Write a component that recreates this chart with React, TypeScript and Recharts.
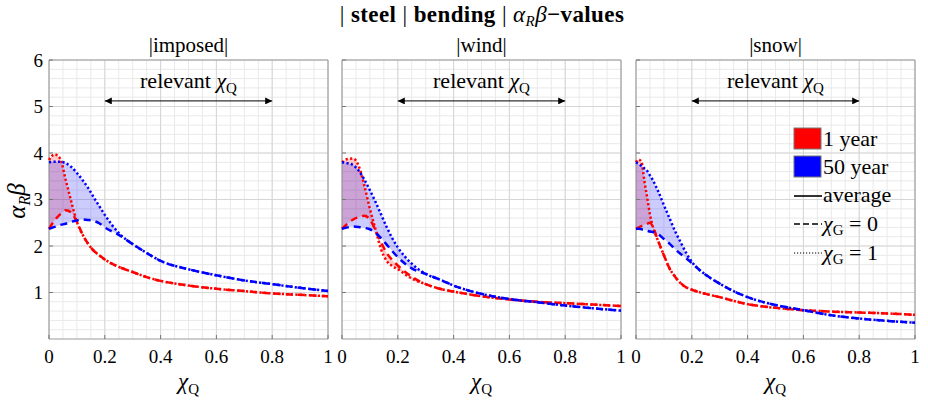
import React from 'react';
import {
  ComposedChart,
  Line,
  Area,
  XAxis,
  YAxis,
  CartesianGrid,
  ReferenceLine,
  ReferenceArea,
} from 'recharts';

// ---------- axis ticks ----------
const xTicks = [0, 0.2, 0.4, 0.6, 0.8, 1];
const xMinor = [0, 0.05, 0.1, 0.15, 0.2, 0.25, 0.3, 0.35, 0.4, 0.45, 0.5, 0.55, 0.6, 0.65, 0.7, 0.75, 0.8, 0.85, 0.9, 0.95, 1];
const yTicks = [1, 2, 3, 4, 5, 6];
const yMinor = [0.2, 0.4, 0.6, 0.8, 1, 1.2, 1.4, 1.6, 1.8, 2, 2.2, 2.4, 2.6, 2.8, 3, 3.2, 3.4, 3.6, 3.8, 4, 4.2, 4.4, 4.6, 4.8, 5, 5.2, 5.4, 5.6, 5.8];

const panelTitles = ['|imposed|', '|wind|', '|snow|'];

// ---------- imposed ----------
const imposedX = [0, 0.02, 0.04, 0.06, 0.08, 0.1, 0.12, 0.14, 0.16, 0.18, 0.2, 0.25, 0.3, 0.35, 0.4, 0.5, 0.6, 0.7, 0.8, 0.9, 1];
const imposedRedG0 = [2.37, 2.55, 2.68, 2.77, 2.72, 2.52, 2.25, 2.05, 1.9, 1.8, 1.71, 1.55, 1.44, 1.33, 1.25, 1.15, 1.08, 1.03, 0.98, 0.95, 0.92];
const imposedRedG1 = [3.85, 3.97, 3.88, 3.42, 2.95, 2.52, 2.25, 2.05, 1.9, 1.8, 1.71, 1.55, 1.44, 1.33, 1.25, 1.15, 1.08, 1.03, 0.98, 0.95, 0.92];
const imposedBlueG0 = [2.37, 2.41, 2.45, 2.48, 2.52, 2.55, 2.57, 2.56, 2.54, 2.49, 2.4, 2.24, 2.04, 1.85, 1.68, 1.5, 1.37, 1.26, 1.18, 1.1, 1.03];
const imposedBlueG1 = [3.8, 3.81, 3.81, 3.78, 3.7, 3.57, 3.42, 3.25, 3.05, 2.86, 2.67, 2.28, 2.04, 1.85, 1.68, 1.5, 1.37, 1.26, 1.18, 1.1, 1.03];

// ---------- wind ----------
const windX = [0, 0.02, 0.04, 0.06, 0.08, 0.1, 0.12, 0.14, 0.16, 0.18, 0.2, 0.25, 0.3, 0.35, 0.4, 0.5, 0.6, 0.7, 0.8, 0.9, 1];
const windRedG0 = [2.37, 2.48, 2.57, 2.62, 2.65, 2.57, 2.34, 2.08, 1.85, 1.7, 1.58, 1.34, 1.18, 1.08, 1.02, 0.92, 0.85, 0.8, 0.77, 0.74, 0.71];
const windRedG1 = [3.8, 3.87, 3.88, 3.72, 3.3, 2.8, 2.36, 1.93, 1.68, 1.57, 1.5, 1.3, 1.18, 1.08, 1.02, 0.92, 0.85, 0.8, 0.77, 0.74, 0.71];
const windBlueG0 = [2.37, 2.4, 2.42, 2.41, 2.39, 2.36, 2.28, 2.17, 2.03, 1.89, 1.76, 1.52, 1.4, 1.28, 1.15, 0.97, 0.86, 0.79, 0.72, 0.66, 0.61];
const windBlueG1 = [3.8, 3.78, 3.74, 3.62, 3.43, 3.2, 2.95, 2.68, 2.41, 2.17, 1.97, 1.62, 1.4, 1.28, 1.15, 0.97, 0.86, 0.79, 0.72, 0.66, 0.61];

// ---------- snow ----------
const snowX = [0, 0.01, 0.02, 0.03, 0.04, 0.05, 0.06, 0.08, 0.1, 0.12, 0.14, 0.16, 0.18, 0.2, 0.25, 0.3, 0.35, 0.4, 0.5, 0.6, 0.7, 0.8, 0.9, 1];
const snowRedG0 = [2.37, 2.4, 2.43, 2.46, 2.48, 2.5, 2.42, 2.1, 1.8, 1.52, 1.34, 1.2, 1.11, 1.06, 0.97, 0.9, 0.82, 0.75, 0.67, 0.62, 0.59, 0.57, 0.55, 0.52];
const snowRedG1 = [3.8, 3.86, 3.8, 3.4, 3.05, 2.68, 2.42, 2.1, 1.8, 1.52, 1.34, 1.2, 1.11, 1.06, 0.97, 0.9, 0.82, 0.75, 0.67, 0.62, 0.59, 0.57, 0.55, 0.52];
const snowBlueG0 = [2.37, 2.37, 2.36, 2.35, 2.33, 2.31, 2.3, 2.25, 2.15, 2.05, 1.93, 1.83, 1.74, 1.63, 1.38, 1.19, 1.03, 0.9, 0.73, 0.62, 0.51, 0.44, 0.39, 0.35];
const snowBlueG1 = [3.8, 3.76, 3.72, 3.67, 3.62, 3.52, 3.42, 3.17, 2.88, 2.6, 2.32, 2.08, 1.85, 1.66, 1.38, 1.19, 1.03, 0.9, 0.73, 0.62, 0.51, 0.44, 0.39, 0.35];

const relevantRange = [0.2, 0.8];
const relevantY = 5.12;

const FONT = '"Liberation Serif", "DejaVu Serif", serif';
const RED = '#ff0000';
const BLUE = '#0000ff';
const LW = 2.5;
const DASH = '7 5';
const DOT = '2.2 2.3';

function buildRows(xs: number[], r0: number[], r1: number[], b0: number[], b1: number[]) {
  return xs.map((x, i) => ({
    x,
    r0: r0[i],
    r1: r1[i],
    b0: b0[i],
    b1: b1[i],
    rRange: [r0[i], r1[i]],
    bRange: [b0[i], b1[i]],
  }));
}

const panels = [
  { left: 49, rows: buildRows(imposedX, imposedRedG0, imposedRedG1, imposedBlueG0, imposedBlueG1) },
  { left: 342, rows: buildRows(windX, windRedG0, windRedG1, windBlueG0, windBlueG1) },
  { left: 636, rows: buildRows(snowX, snowRedG0, snowRedG1, snowBlueG0, snowBlueG1) },
];

const PLOT_W = 279;
const Y_W = 49;

const RelevantLabel = (props: any) => {
  const vb = props.viewBox || {};
  const cx = (vb.x || 0) + (vb.width || 0) / 2;
  const y = (vb.y || 0) - 13;
  return (
    <text x={cx} y={y} textAnchor="middle" fontFamily={FONT} fontSize={22} fill="#000">
      relevant{'\u00a0'}
      <tspan fontStyle="italic">χ</tspan>
      <tspan fontSize={15} dy={5}>Q</tspan>
    </text>
  );
};

function Panel({ left, rows, showY }: { left: number; rows: any[]; showY: boolean }) {
  return (
    <div style={{ position: 'absolute', left: left - Y_W, top: 0 }}>
      <ComposedChart
        width={Y_W + PLOT_W + 10}
        height={403}
        data={rows}
        margin={{ top: 60, right: 10, bottom: 0, left: 0 }}
      >
        <CartesianGrid verticalValues={xMinor} horizontalValues={yMinor} stroke="#e9e9e9" strokeWidth={1} />
        <CartesianGrid verticalValues={xTicks} horizontalValues={yTicks} stroke="#d6d6d6" strokeWidth={1} />
        <XAxis
          dataKey="x"
          type="number"
          domain={[0, 1]}
          ticks={xTicks}
          height={64}
          axisLine={false}
          tickSize={-4}
          tickMargin={15}
          tickLine={{ stroke: '#777' }}
          tick={{ fill: '#000', fontFamily: FONT, fontSize: 19 }}
          interval={0}
        />
        <YAxis
          type="number"
          domain={[0, 6]}
          ticks={yTicks}
          width={Y_W}
          axisLine={false}
          tickSize={-4}
          tickMargin={10}
          tickLine={{ stroke: '#777' }}
          tick={{ fill: '#000', fontFamily: FONT, fontSize: 19 }}
          tickFormatter={(v: number) => (showY ? String(v) : '')}
          interval={0}
        />
        <Area type="monotone" dataKey="rRange" stroke="none" fill={RED} fillOpacity={0.2} isAnimationActive={false} />
        <Area type="monotone" dataKey="bRange" stroke="none" fill={BLUE} fillOpacity={0.2} isAnimationActive={false} />
        <Line type="monotone" dataKey="r0" stroke={RED} strokeWidth={LW} strokeDasharray={DASH} dot={false} isAnimationActive={false} />
        <Line type="monotone" dataKey="r1" stroke={RED} strokeWidth={LW} strokeDasharray={DOT} dot={false} isAnimationActive={false} />
        <Line type="monotone" dataKey="b0" stroke={BLUE} strokeWidth={LW} strokeDasharray={DASH} dot={false} isAnimationActive={false} />
        <Line type="monotone" dataKey="b1" stroke={BLUE} strokeWidth={LW} strokeDasharray={DOT} dot={false} isAnimationActive={false} />
        <ReferenceLine
          segment={[
            { x: relevantRange[0], y: relevantY },
            { x: relevantRange[1], y: relevantY },
          ]}
          stroke="#000"
          strokeWidth={1}
          markerStart="url(#arrowHead)"
          markerEnd="url(#arrowHead)"
          label={RelevantLabel}
        />
        <ReferenceArea x1={0} x2={1} y1={0} y2={6} fill="none" stroke="#9a9a9a" strokeWidth={1} />
      </ComposedChart>
    </div>
  );
}

function Overlay() {
  const centers = panels.map((p) => p.left + PLOT_W / 2);
  return (
    <svg width={928} height={403} style={{ position: 'absolute', left: 0, top: 0, pointerEvents: 'none' }}>
      <text x={482} y={22} textAnchor="middle" fontFamily={FONT} fontSize={23} fill="#000" letterSpacing={0.4}>
        |{'\u00a0'}
        <tspan fontWeight="bold">steel</tspan>
        {'\u00a0'}|{'\u00a0'}
        <tspan fontWeight="bold">bending</tspan>
        {'\u00a0'}|{'\u00a0'}
        <tspan fontStyle="italic">α</tspan>
        <tspan fontStyle="italic" fontSize={15} dy={4}>R</tspan>
        <tspan fontStyle="italic" dy={-4}>β</tspan>
        <tspan fontWeight="bold">−values</tspan>
      </text>
      {centers.map((cx, i) => (
        <text key={'t' + i} x={cx} y={52} textAnchor="middle" fontFamily={FONT} fontSize={21} fill="#000">
          {panelTitles[i]}
        </text>
      ))}
      {centers.map((cx, i) => (
        <text key={'x' + i} x={cx} y={389} textAnchor="middle" fontFamily={FONT} fontSize={23} fill="#000">
          <tspan fontStyle="italic">χ</tspan>
          <tspan fontSize={15} dy={5}>Q</tspan>
        </text>
      ))}
      <text
        transform="translate(25 201) rotate(-90)"
        textAnchor="middle"
        fontFamily={FONT}
        fontSize={25}
        fill="#000"
      >
        <tspan fontStyle="italic">α</tspan>
        <tspan fontStyle="italic" fontSize={16} dy={5}>R</tspan>
        <tspan fontStyle="italic" dy={-5}>β</tspan>
      </text>
      {/* legend */}
      <g fontFamily={FONT} fontSize={22} fill="#000">
        <rect x={794} y={128} width={27} height={21} fill={RED} stroke="#777" strokeWidth={1} />
        <text x={823} y={146}>1 year</text>
        <rect x={794} y={156} width={27} height={21} fill={BLUE} stroke="#777" strokeWidth={1} />
        <text x={823} y={174}>50 year</text>
        <line x1={794} x2={822} y1={196} y2={196} stroke="#000" strokeWidth={1.6} />
        <text x={823} y={202}>average</text>
        <line x1={794} x2={822} y1={224} y2={224} stroke="#000" strokeWidth={1.6} strokeDasharray="6 3" />
        <text x={823} y={231}>
          <tspan fontStyle="italic">χ</tspan>
          <tspan fontSize={15} dy={4}>G</tspan>
          <tspan dy={-4}>{'\u00a0'}={'\u00a0'}0</tspan>
        </text>
        <line x1={794} x2={822} y1={253} y2={253} stroke="#000" strokeWidth={1.2} strokeDasharray="1.2 1.8" />
        <text x={823} y={260}>
          <tspan fontStyle="italic">χ</tspan>
          <tspan fontSize={15} dy={4}>G</tspan>
          <tspan dy={-4}>{'\u00a0'}={'\u00a0'}1</tspan>
        </text>
      </g>
    </svg>
  );
}

export default function App() {
  return (
    <div style={{ position: 'absolute', left: 0, top: 0, width: 928, height: 403, background: '#fff', overflow: 'hidden' }}>
      <svg width={0} height={0} style={{ position: 'absolute' }}>
        <defs>
          <marker
            id="arrowHead"
            viewBox="0 0 10 10"
            refX={10}
            refY={5}
            markerWidth={9}
            markerHeight={7}
            markerUnits="userSpaceOnUse"
            orient="auto-start-reverse"
          >
            <path d="M0,0 L10,5 L0,10 z" fill="#000" />
          </marker>
        </defs>
      </svg>
      {panels.map((p, i) => (
        <Panel key={i} left={p.left} rows={p.rows} showY={i === 0} />
      ))}
      <Overlay />
    </div>
  );
}
